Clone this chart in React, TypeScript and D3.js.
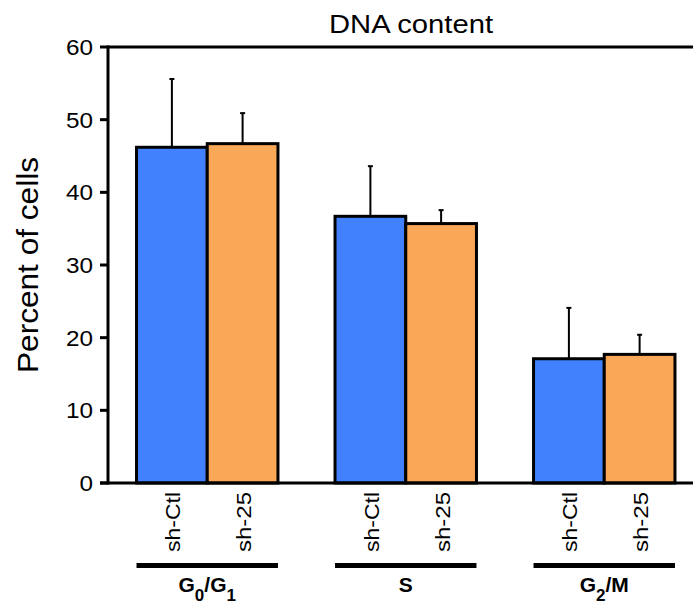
import React from "react";
import * as d3 from "d3";

const groups = ["G0/G1", "S", "G2/M"];
const series = ["sh-Ctl", "sh-25"];
const ctlValues = [46.2, 36.7, 17.1];
const ctlErr = [9.4, 6.9, 7.0];
const kdValues = [46.7, 35.7, 17.7];
const kdErr = [4.2, 1.85, 2.7];
const yTicks = [0, 10, 20, 30, 40, 50, 60];
const colors = ["#4281fd", "#f9a857"];

const W = 693, H = 607;
const left = 108, top = 47, bottom = 483;
const font = "Liberation Sans, Arial, sans-serif";

export default function App() {
  const y = d3.scaleLinear().domain([0, 60]).range([bottom, top]);
  const x0 = d3.scaleBand<string>().domain(groups).range([left, 703.5]).paddingInner(0.2875).paddingOuter(0.1437);
  const x1 = d3.scaleBand<string>().domain(series).range([0, x0.bandwidth()]);
  const vals = [ctlValues, kdValues];
  const errs = [ctlErr, kdErr];

  const groupLabel = (g: string) => {
    if (g === "G0/G1")
      return (
        <>
          <tspan>G</tspan>
          <tspan dy={9} fontSize={17}>0</tspan>
          <tspan dy={-9}>/G</tspan>
          <tspan dy={9} fontSize={17}>1</tspan>
        </>
      );
    if (g === "G2/M")
      return (
        <>
          <tspan>G</tspan>
          <tspan dy={9} fontSize={17}>2</tspan>
          <tspan dy={-9}>/M</tspan>
        </>
      );
    return g;
  };

  return (
    <svg width={W} height={H} style={{ position: "absolute", left: 0, top: 0 }} fontFamily={font}>
      <rect width={W} height={H} fill="white" />
      <text x={411} y={33} fontSize={25} textAnchor="middle" textLength={164} lengthAdjust="spacingAndGlyphs">DNA content</text>
      <text transform={`translate(38,265) rotate(-90)`} fontSize={29} textAnchor="middle" textLength={216} lengthAdjust="spacingAndGlyphs">Percent of cells</text>
      {groups.map((g, gi) =>
        series.map((s, si) => {
          const bx = (x0(g) as number) + (x1(s) as number);
          const bw = x1.bandwidth();
          const v = vals[si][gi];
          const e = errs[si][gi];
          const cx = bx + bw / 2;
          return (
            <g key={g + s}>
              <line x1={cx} x2={cx} y1={y(v)} y2={y(v + e)} stroke="black" strokeWidth={2} />
              <line x1={cx - 2.5} x2={cx + 2.5} y1={y(v + e)} y2={y(v + e)} stroke="black" strokeWidth={2} />
              <rect x={bx} y={y(v)} width={bw} height={y(0) - y(v)} fill={colors[si]} stroke="black" strokeWidth={3} />
            </g>
          );
        })
      )}
      <line x1={left} x2={W} y1={top} y2={top} stroke="black" strokeWidth={3} />
      <line x1={left} x2={left} y1={top - 1.5} y2={bottom + 1.5} stroke="black" strokeWidth={3} />
      <line x1={left - 8} x2={W} y1={bottom} y2={bottom} stroke="black" strokeWidth={3} />
      {yTicks.map((t) => (
        <g key={t}>
          <line x1={left - 8} x2={left} y1={y(t)} y2={y(t)} stroke="black" strokeWidth={3} />
          <text x={left - 15} y={y(t) + 8} fontSize={22.5} textAnchor="end" textLength={t === 0 ? 13.5 : 27} lengthAdjust="spacingAndGlyphs">{t}</text>
        </g>
      ))}
      {groups.map((g) =>
        series.map((s) => {
          const cx = (x0(g) as number) + (x1(s) as number) + x1.bandwidth() / 2;
          return (
            <text key={g + s} transform={`translate(${cx + 8.5},492) rotate(-90)`} fontSize={20} textAnchor="end" textLength={60} lengthAdjust="spacingAndGlyphs">{s}</text>
          );
        })
      )}
      {groups.map((g) => {
        const gx = x0(g) as number;
        return (
          <g key={g}>
            <line x1={gx} x2={gx + x0.bandwidth()} y1={565.5} y2={565.5} stroke="black" strokeWidth={5} />
            <text x={gx + x0.bandwidth() / 2} y={592} fontSize={21} fontWeight="bold" textAnchor="middle">{groupLabel(g)}</text>
          </g>
        );
      })}
    </svg>
  );
}
